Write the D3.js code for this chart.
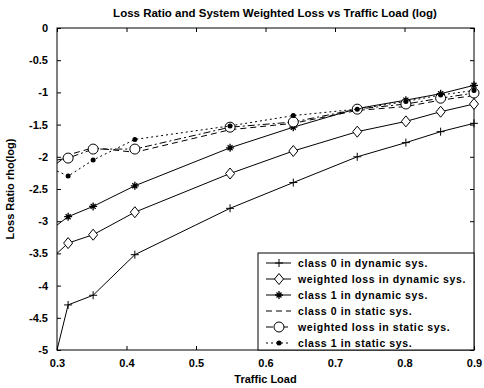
<!DOCTYPE html>
<html>
<head>
<meta charset="utf-8">
<script src="https://cdn.jsdelivr.net/npm/d3@7"></script>
<style>
  body { margin: 0; background: #fff; }
  text { font-family: "Liberation Sans", Arial, sans-serif; fill: #000; }
</style>
</head>
<body>
<div id="chart"></div>
<script>
// traffic load values (x)
const loads = [0.3, 0.316, 0.352, 0.412, 0.549, 0.640, 0.732, 0.802, 0.852, 0.9];

// log loss ratio per series
const class0Dynamic = [-5.0, -4.30, -4.15, -3.52, -2.80, -2.40, -2.00, -1.78, -1.61, -1.48];
const weightedDynamic = [-3.5, -3.34, -3.21, -2.86, -2.26, -1.91, -1.61, -1.45, -1.30, -1.18];
const class1Dynamic = [-3.06, -2.93, -2.77, -2.45, -1.86, -1.54, -1.25, -1.12, -1.02, -0.89];
const class0Static = [-2.10, -1.97, -1.86, -1.93, -1.58, -1.48, -1.28, -1.22, -1.12, -1.05];
const weightedStatic = [-2.05, -2.02, -1.88, -1.88, -1.54, -1.46, -1.26, -1.18, -1.09, -1.01];
const class1Static = [-2.22, -2.30, -2.05, -1.73, -1.52, -1.36, -1.26, -1.14, -1.04, -0.97];

const seriesNames = [
    'class 0 in dynamic sys.',
    'weighted loss in dynamic sys.',
    'class 1 in dynamic sys.',
    'class 0 in static sys.',
    'weighted loss in static sys.',
    'class 1 in static sys.'
];

const xTicks = [0.3, 0.4, 0.5, 0.6, 0.7, 0.8, 0.9];
const yTicks = [0, -0.5, -1, -1.5, -2, -2.5, -3, -3.5, -4, -4.5, -5];

const series = [
    { name: seriesNames[0], values: class0Dynamic, dash: null, marker: 'plus' },
    { name: seriesNames[1], values: weightedDynamic, dash: null, marker: 'diamond' },
    { name: seriesNames[2], values: class1Dynamic, dash: null, marker: 'star' },
    { name: seriesNames[3], values: class0Static, dash: '6,4', marker: null },
    { name: seriesNames[4], values: weightedStatic, dash: '7,3,2,3', marker: 'circle' },
    { name: seriesNames[5], values: class1Static, dash: '2,3', marker: 'dot' }
];

const width = 484, height = 388;
const margin = { top: 28, right: 10, bottom: 38, left: 57 };
const w = width - margin.left - margin.right;
const h = height - margin.top - margin.bottom;

const svg = d3.select('#chart').append('svg')
    .attr('width', width)
    .attr('height', height);

const g = svg.append('g')
    .attr('transform', `translate(${margin.left},${margin.top})`);

const x = d3.scaleLinear().domain([0.3, 0.9]).range([0, w]);
const y = d3.scaleLinear().domain([-5, 0]).range([h, 0]);

// box
g.append('rect')
    .attr('width', w).attr('height', h)
    .attr('fill', 'none').attr('stroke', '#000').attr('stroke-width', 1);

// axes with inward ticks
const fmt = d => String(d);
g.append('g')
    .attr('transform', `translate(0,${h})`)
    .call(d3.axisBottom(x).tickValues(xTicks).tickSizeInner(-4).tickSizeOuter(0).tickPadding(9).tickFormat(fmt))
    .call(a => a.select('.domain').remove());
g.append('g')
    .call(d3.axisTop(x).tickValues(xTicks).tickSizeInner(-4).tickSizeOuter(0).tickFormat(''))
    .call(a => a.select('.domain').remove());
g.append('g')
    .call(d3.axisLeft(y).tickValues(yTicks).tickSizeInner(-4).tickSizeOuter(0).tickPadding(9).tickFormat(fmt))
    .call(a => a.select('.domain').remove());
g.append('g')
    .attr('transform', `translate(${w},0)`)
    .call(d3.axisRight(y).tickValues(yTicks).tickSizeInner(-4).tickSizeOuter(0).tickFormat(''))
    .call(a => a.select('.domain').remove());

g.selectAll('.tick text')
    .attr('font-size', 11)
    .attr('font-weight', 'bold')
    .attr('font-family', '"Liberation Sans", Arial, sans-serif');

// marker drawing
function drawMarker(sel, type) {
    if (type === 'plus') {
        sel.append('path').attr('d', 'M-4,0H4M0,-4V4')
            .attr('stroke', '#000').attr('stroke-width', 1);
    } else if (type === 'star') {
        sel.append('path').attr('d', 'M-4,0H4M0,-4V4M-2.5,-2.5L2.5,2.5M-2.5,2.5L2.5,-2.5')
            .attr('stroke', '#000').attr('stroke-width', 1.3);
    } else if (type === 'diamond') {
        sel.append('path').attr('d', 'M0,-5.5L4.5,0L0,5.5L-4.5,0Z')
            .attr('fill', '#fff').attr('stroke', '#000').attr('stroke-width', 1);
    } else if (type === 'circle') {
        sel.append('circle').attr('r', 5)
            .attr('fill', '#fff').attr('stroke', '#000').attr('stroke-width', 1);
    } else if (type === 'dot') {
        sel.append('circle').attr('r', 2.5).attr('fill', '#000');
    }
}

const line = d3.line()
    .x(d => x(d[0]))
    .y(d => y(d[1]));

series.forEach(s => {
    const pts = loads.map((l, i) => [l, s.values[i]]);
    g.append('path')
        .datum(pts)
        .attr('d', line)
        .attr('fill', 'none')
        .attr('stroke', '#000')
        .attr('stroke-width', 1)
        .attr('stroke-dasharray', s.dash);
    if (s.marker) {
        g.selectAll(null)
            .data(pts.slice(1))
            .enter()
            .append('g')
            .attr('transform', d => `translate(${x(d[0])},${y(d[1])})`)
            .each(function () { drawMarker(d3.select(this), s.marker); });
    }
});

// legend
const legX = 201, legY = 225, legW = w - legX, legH = h - legY;
const legend = g.append('g');
legend.append('rect')
    .attr('x', legX).attr('y', legY)
    .attr('width', legW).attr('height', legH)
    .attr('fill', '#fff').attr('stroke', '#000').attr('stroke-width', 1);

series.forEach((s, i) => {
    const ly = legY + 10 + i * 16;
    const row = legend.append('g');
    row.append('line')
        .attr('x1', legX + 8).attr('x2', legX + 33)
        .attr('y1', ly).attr('y2', ly)
        .attr('stroke', '#000').attr('stroke-width', 1)
        .attr('stroke-dasharray', s.dash);
    if (s.marker) {
        const m = row.append('g').attr('transform', `translate(${legX + 21},${ly})`);
        drawMarker(m, s.marker);
    }
    row.append('text')
        .attr('x', legX + 40).attr('y', ly + 4)
        .attr('font-size', 10.5)
        .attr('font-weight', 'bold')
        .attr('letter-spacing', 0.6)
        .text(s.name);
});

// titles
svg.append('text')
    .attr('x', 275).attr('y', 17)
    .attr('text-anchor', 'middle')
    .attr('font-size', 11.5)
    .attr('font-weight', 'bold')
    .text('Loss Ratio and System Weighted Loss vs Traffic Load (log)');

svg.append('text')
    .attr('x', margin.left + w / 2).attr('y', 383)
    .attr('text-anchor', 'middle')
    .attr('font-size', 11)
    .attr('font-weight', 'bold')
    .text('Traffic Load');

svg.append('text')
    .attr('transform', `translate(14,${margin.top + h / 2}) rotate(-90)`)
    .attr('text-anchor', 'middle')
    .attr('font-size', 11)
    .attr('font-weight', 'bold')
    .text('Loss Ratio rho(log)');
</script>
</body>
</html>
